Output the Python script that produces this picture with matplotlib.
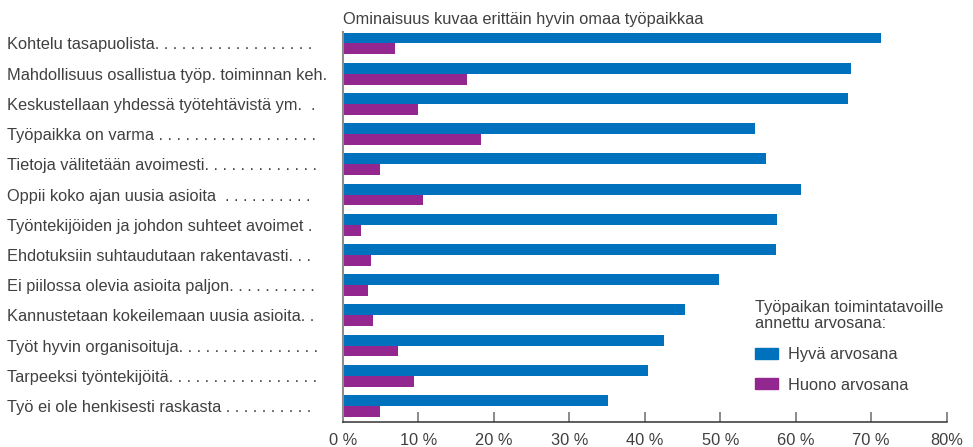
import matplotlib
matplotlib.use("Agg")
import matplotlib.pyplot as plt
from matplotlib.patches import Patch
from matplotlib.text import Text

categories = [
    "Kohtelu tasapuolista.",
    "Mahdollisuus osallistua työp. toiminnan keh.",
    "Keskustellaan yhdessä työtehtävistä ym. ",
    "Työpaikka on varma",
    "Tietoja välitetään avoimesti.",
    "Oppii koko ajan uusia asioita ",
    "Työntekijöiden ja johdon suhteet avoimet",
    "Ehdotuksiin suhtaudutaan rakentavasti.",
    "Ei piilossa olevia asioita paljon.",
    "Kannustetaan kokeilemaan uusia asioita.",
    "Työt hyvin organisoituja.",
    "Tarpeeksi työntekijöitä.",
    "Työ ei ole henkisesti raskasta",
]
good = [71.3, 67.3, 66.9, 54.6, 56.1, 60.7, 57.5, 57.4, 49.8, 45.3, 42.6, 40.4, 35.1]
bad = [6.9, 16.5, 10.0, 18.3, 4.9, 10.6, 2.4, 3.7, 3.4, 4.0, 7.3, 9.4, 4.9]
xticks = [0, 10, 20, 30, 40, 50, 60, 70, 80]
xticklabels = ["0 %", "10 %", "20 %", "30 %", "40 %", "50 %", "60 %", "70 %", "80%"]
title = "Ominaisuus kuvaa erittäin hyvin omaa työpaikkaa"
legend_title = "Työpaikan toimintatavoille\nannettu arvosana:"
series_names = ["Hyvä arvosana", "Huono arvosana"]

BLUE = "#0071BC"
PURPLE = "#93278F"
TXT = "#404040"
FS = 11.8
FONT = "Liberation Sans"

plt.rcParams["font.family"] = [FONT, "DejaVu Sans"]
plt.rcParams["font.size"] = FS

W, H = 973, 447
fig = plt.figure(figsize=(W / 100, H / 100), dpi=100)
ax = fig.add_axes([342.7 / W, (H - 422) / H, (946.7 - 342.7) / W, (422 - 32) / H])

n = len(categories)
y = list(range(n))
h = 0.36
ax.barh([v - h / 2 for v in y], good, height=h, color=BLUE, label=series_names[0])
ax.barh([v + h / 2 for v in y], bad, height=h, color=PURPLE, label=series_names[1])
ax.set_xlim(0, 80)
ax.set_ylim(12.53, -0.38)

# dot leaders filling to a common right edge
fig.canvas.draw()
renderer = fig.canvas.get_renderer()
target = 312.0
final = []
for base in categories:
    s = base
    t = Text(0, 0, s, fontsize=FS, fontfamily=[FONT, "DejaVu Sans"], figure=fig)
    while True:
        t.set_text(s + " .")
        if t.get_window_extent(renderer).width > target:
            break
        s = s + " ."
    final.append(s)

ax.set_yticks(y, final)
pad_pt = (342.7 - 7) * 0.72
ax.tick_params(axis="y", length=0, pad=pad_pt, labelcolor=TXT)
for lbl in ax.get_yticklabels():
    lbl.set_horizontalalignment("left")

ax.set_xticks(xticks, xticklabels)
ax.tick_params(axis="x", direction="in", length=7, width=1.2, color="#777777",
               pad=8, labelcolor=TXT, labelsize=FS)

for s in ["top", "right"]:
    ax.spines[s].set_visible(False)
ax.spines["left"].set_color("#8c8c8c")
ax.spines["left"].set_linewidth(1.5)
ax.spines["bottom"].set_color("#333333")
ax.spines["bottom"].set_linewidth(1.1)

ax.set_title(title, loc="left", pad=6, color=TXT, fontsize=FS)

handles = [Patch(color=BLUE), Patch(color=PURPLE)]
leg = ax.legend(handles, series_names, title=legend_title, loc="upper left",
                bbox_to_anchor=(755 / W, 1 - 300 / H), bbox_transform=fig.transFigure,
                frameon=False, alignment="left", borderpad=0, borderaxespad=0,
                handlelength=1.4, handleheight=0.66, handletextpad=0.6,
                labelspacing=0.95, fontsize=FS, title_fontsize=FS)
for t in leg.get_texts():
    t.set_color(TXT)
leg.get_title().set_color(TXT)
leg.get_title().set_linespacing(1.12)

fig.savefig("out.png", dpi=100)
